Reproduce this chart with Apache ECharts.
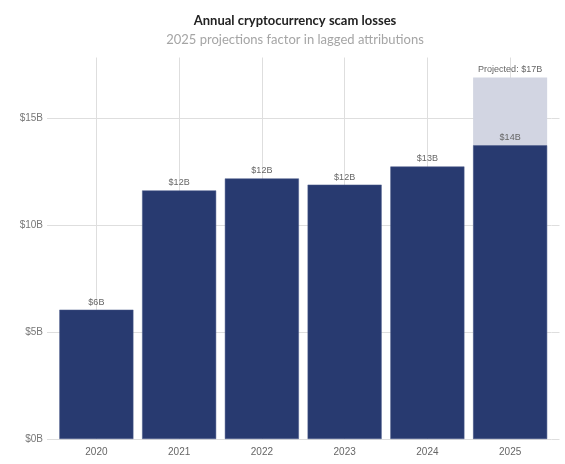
<!DOCTYPE html>
<html>
<head>
<meta charset="utf-8">
<script src="https://cdn.jsdelivr.net/npm/echarts@6/dist/echarts.min.js"></script>
<style>html,body{margin:0;padding:0;background:#fff}#c{width:565px;height:464px}</style>
</head>
<body>
<div id="c"></div>
<script>
const categories = ['2020', '2021', '2022', '2023', '2024', '2025'];
const reported = [6.05, 11.63, 12.19, 11.9, 12.75, 13.74];
const projected = [null, null, null, null, null, 16.92];
const yTicks = [0, 5, 10, 15];
const yMax = 17.85;

const gridColor = '#dedede';
const chart = echarts.init(document.getElementById('c'));
const yBase = {
  type: 'value', min: 0, max: yMax, interval: 5,
  axisLine: { show: false }
};
chart.setOption({
  backgroundColor: '#fff',
  animation: false,
  title: {
    text: 'Annual cryptocurrency scam losses',
    subtext: '2025 projections factor in lagged attributions',
    left: 290, top: 9, textAlign: 'center', itemGap: 6,
    textStyle: { fontFamily: 'Lato', fontWeight: 'bold', fontSize: 13, color: '#222' },
    subtextStyle: { fontFamily: 'Lato', fontSize: 13, color: '#a5a5a5' }
  },
  grid: { left: 55, right: 13.5, top: 57.5, bottom: 25, containLabel: false },
  xAxis: {
    type: 'category', data: categories,
    axisLine: { show: false }, axisTick: { show: false },
    axisLabel: { color: '#666', fontSize: 10, margin: 8, fontFamily: 'Liberation Sans' },
    splitLine: { show: true, alignWithLabel: true, interval: 0, lineStyle: { color: gridColor } }
  },
  yAxis: [
    Object.assign({}, yBase, {
      position: 'left',
      axisTick: { show: true, length: 8, customValues: yTicks, lineStyle: { color: gridColor } },
      axisLabel: { color: '#777', fontSize: 10, margin: 12, fontFamily: 'Liberation Sans',
        customValues: yTicks,
        formatter: v => '$' + v + 'B' },
      splitLine: { show: true, lineStyle: { color: gridColor } }
    }),
    Object.assign({}, yBase, {
      position: 'right',
      axisTick: { show: true, length: 8, customValues: yTicks, lineStyle: { color: gridColor } },
      axisLabel: { show: false },
      splitLine: { show: false }
    })
  ],
  series: [
    {
      name: 'Projected', type: 'bar', data: projected,
      barCategoryGap: '10.5%', barGap: '-100%',
      itemStyle: { color: '#d2d5e2' },
      label: { show: true, position: 'top', distance: 3, color: '#666', fontSize: 9,
        fontFamily: 'Liberation Sans',
        formatter: p => 'Projected: $' + Math.round(p.value) + 'B' }
    },
    {
      name: 'Reported', type: 'bar', data: reported,
      barCategoryGap: '10.5%', barGap: '-100%',
      itemStyle: { color: '#283a70', borderColor: '#4a5a8a', borderWidth: 0.5 },
      label: { show: true, position: 'top', distance: 3, color: '#666', fontSize: 9,
        fontFamily: 'Liberation Sans',
        formatter: p => '$' + Math.round(p.value) + 'B' }
    }
  ]
});
</script>
</body>
</html>
